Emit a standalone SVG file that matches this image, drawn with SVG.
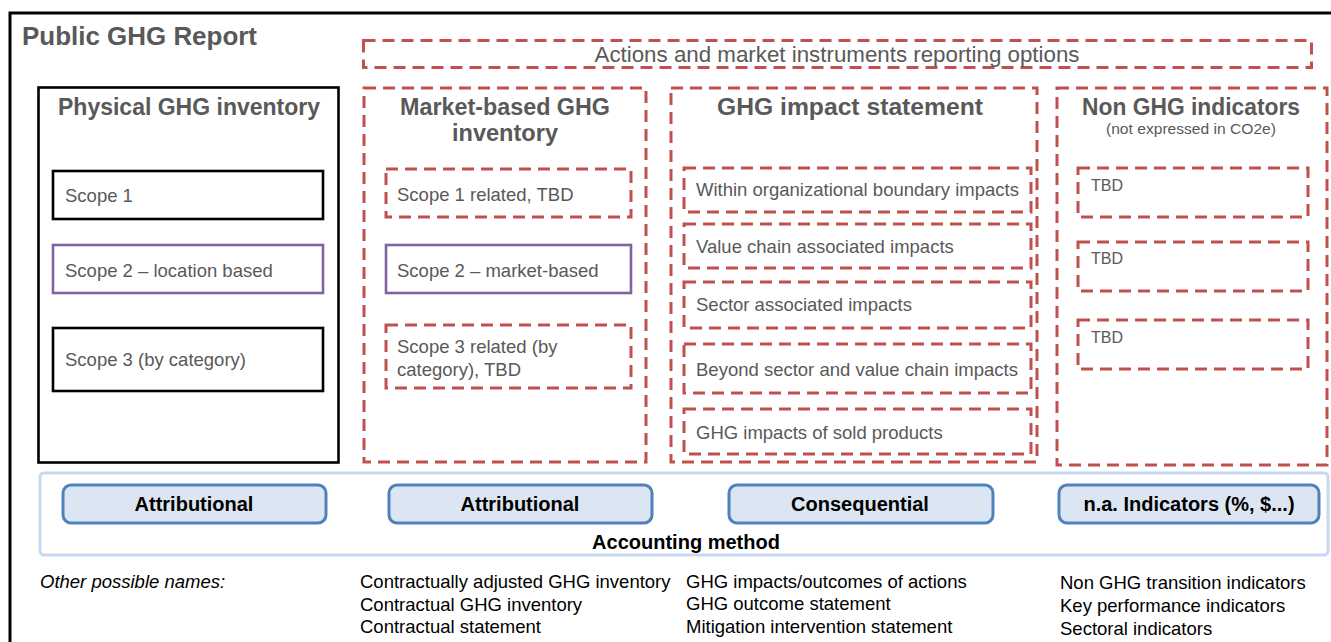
<svg xmlns="http://www.w3.org/2000/svg" width="1331" height="642" viewBox="0 0 1331 642">
<style>
.frame{fill:none;stroke:#000;stroke-width:3}
.solid{fill:#fff;stroke:#000;stroke-width:2.6}
.purple{fill:#fff;stroke:#8064a2;stroke-width:2.6}
.dash{fill:none;stroke:#c0504d;stroke-width:3;stroke-dasharray:12 7}
.band{fill:#fff;stroke:#c6d9f1;stroke-width:3}
.pill{fill:#dce6f2;stroke:#4f81bd;stroke-width:3}
text{font-family:"Liberation Sans",Arial,sans-serif}
.title{font-size:23px;font-weight:bold;fill:#595959;text-anchor:middle}
.body{font-size:18.5px;fill:#595959}
.small{font-size:16px;fill:#595959}
.pt{font-size:20px;font-weight:bold;fill:#000;text-anchor:middle}
.bt{font-size:18.5px;fill:#000}
</style>
<rect width="1331" height="642" fill="#fff"/>
<g id="frame">
<rect class="frame" x="10" y="13" width="1340" height="660"/>
<text x="22" y="45" font-size="26" font-weight="bold" fill="#595959" textLength="235" lengthAdjust="spacingAndGlyphs">Public GHG Report</text>
</g>
<g id="actions">
<rect class="dash" x="363.5" y="40.5" width="948" height="27"/>
<text x="837" y="62" font-size="22" fill="#595959" text-anchor="middle" textLength="485" lengthAdjust="spacingAndGlyphs">Actions and market instruments reporting options</text>
</g>
<g id="physical">
<rect class="solid" x="38.5" y="87.5" width="300" height="375"/>
<text class="title" x="189" y="115" textLength="262" lengthAdjust="spacingAndGlyphs">Physical GHG inventory</text>
</g>
<g id="scope1">
<rect class="solid" x="53" y="171" width="270" height="48"/>
<text class="body" x="65" y="202">Scope 1</text>
</g>
<g id="scope2loc">
<rect class="purple" x="53" y="245" width="270" height="48"/>
<text class="body" x="65" y="277">Scope 2 – location based</text>
</g>
<g id="scope3">
<rect class="solid" x="53" y="328" width="270" height="63"/>
<text class="body" x="65" y="366">Scope 3 (by category)</text>
</g>
<g id="market">
<rect class="dash" x="364" y="88" width="282" height="374"/>
<text class="title" x="505" y="115" textLength="210" lengthAdjust="spacingAndGlyphs">Market-based GHG</text>
<text class="title" x="505" y="141" textLength="106" lengthAdjust="spacingAndGlyphs">inventory</text>
</g>
<g id="scope1rel">
<rect class="dash" x="386" y="169" width="245" height="48"/>
<text class="body" x="397" y="201">Scope 1 related, TBD</text>
</g>
<g id="scope2mkt">
<rect class="purple" x="386" y="245" width="245" height="48"/>
<text class="body" x="397" y="277">Scope 2 – market-based</text>
</g>
<g id="scope3rel">
<rect class="dash" x="386" y="325" width="245" height="63"/>
<text class="body" x="397" y="353">Scope 3 related (by</text>
<text class="body" x="397" y="376">category), TBD</text>
</g>
<g id="impact">
<rect class="dash" x="671" y="88" width="366" height="374"/>
<text class="title" x="850" y="115" textLength="266" lengthAdjust="spacingAndGlyphs">GHG impact statement</text>
</g>
<g id="within">
<rect class="dash" x="684" y="168" width="347" height="44"/>
<text class="body" x="696" y="196">Within organizational boundary impacts</text>
</g>
<g id="valuechain">
<rect class="dash" x="684" y="224" width="347" height="44"/>
<text class="body" x="696" y="253">Value chain associated impacts</text>
</g>
<g id="sector">
<rect class="dash" x="684" y="282" width="347" height="46"/>
<text class="body" x="696" y="311">Sector associated impacts</text>
</g>
<g id="beyond">
<rect class="dash" x="684" y="344" width="347" height="49"/>
<text class="body" x="696" y="376">Beyond sector and value chain impacts</text>
</g>
<g id="sold">
<rect class="dash" x="684" y="409" width="347" height="45"/>
<text class="body" x="696" y="439">GHG impacts of sold products</text>
</g>
<g id="nonghg">
<rect class="dash" x="1057" y="88" width="270" height="377"/>
<text class="title" x="1191" y="115" textLength="218" lengthAdjust="spacingAndGlyphs">Non GHG indicators</text>
<text x="1191" y="134" font-size="15" fill="#595959" text-anchor="middle" textLength="170" lengthAdjust="spacingAndGlyphs">(not expressed in CO2e)</text>
</g>
<g id="tbd1">
<rect class="dash" x="1078" y="168" width="230" height="49"/>
<text class="small" x="1091" y="191">TBD</text>
</g>
<g id="tbd2">
<rect class="dash" x="1078" y="242" width="230" height="49"/>
<text class="small" x="1091" y="264">TBD</text>
</g>
<g id="tbd3">
<rect class="dash" x="1078" y="320" width="230" height="49"/>
<text class="small" x="1091" y="343">TBD</text>
</g>
<g id="accounting">
<rect class="band" x="40" y="473" width="1288" height="82" rx="4"/>
<text x="686" y="549" font-size="20" font-weight="bold" fill="#000" text-anchor="middle">Accounting method</text>
</g>
<g id="attr1">
<rect class="pill" x="63" y="485" width="263" height="38" rx="8"/>
<text class="pt" x="194" y="511">Attributional</text>
</g>
<g id="attr2">
<rect class="pill" x="389" y="485" width="263" height="38" rx="8"/>
<text class="pt" x="520" y="511">Attributional</text>
</g>
<g id="conseq">
<rect class="pill" x="729" y="485" width="264" height="38" rx="8"/>
<text class="pt" x="860" y="511">Consequential</text>
</g>
<g id="na">
<rect class="pill" x="1059" y="485" width="260" height="38" rx="8"/>
<text class="pt" x="1189" y="511">n.a. Indicators (%, $...)</text>
</g>
<g id="names">
<text class="bt" x="40" y="588" font-style="italic">Other possible names:</text>
<text class="bt" x="360" y="588">Contractually adjusted GHG inventory</text>
<text class="bt" x="360" y="611">Contractual GHG inventory</text>
<text class="bt" x="360" y="633">Contractual statement</text>
<text class="bt" x="686" y="588">GHG impacts/outcomes of actions</text>
<text class="bt" x="686" y="610">GHG outcome statement</text>
<text class="bt" x="686" y="633">Mitigation intervention statement</text>
<text class="bt" x="1060" y="589">Non GHG transition indicators</text>
<text class="bt" x="1060" y="612">Key performance indicators</text>
<text class="bt" x="1060" y="635">Sectoral indicators</text>
</g>
<g id="connectors"></g>
</svg>
